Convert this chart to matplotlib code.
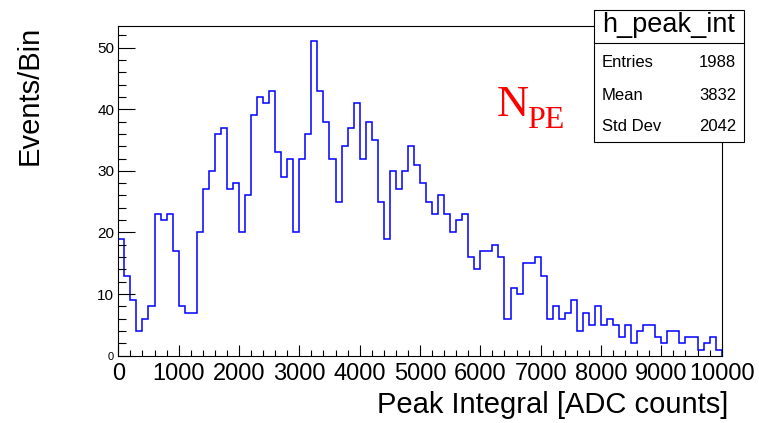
import numpy as np
import matplotlib
matplotlib.use("Agg")
import matplotlib.pyplot as plt
from matplotlib.patches import Rectangle
from matplotlib.lines import Line2D
from matplotlib.ticker import MultipleLocator

plt.rcParams["font.family"] = ["Liberation Sans", "DejaVu Sans"]

# ── 数据：h_peak_int，100 个 bin，每 bin 宽 100 ──────────────────────
bin_width = 100
counts = [
    19, 13, 9, 4, 6, 8, 23, 22, 23, 17,
    8, 7, 7, 20, 27, 30, 36, 37, 27, 28,
    20, 26, 39, 42, 41, 43, 33, 29, 32, 20,
    32, 36, 51, 43, 38, 32, 25, 34, 37, 41,
    32, 38, 35, 25, 19, 30, 27, 30, 34, 31,
    28, 25, 23, 26, 23, 20, 22, 23, 16, 14,
    17, 17, 18, 16, 6, 11, 10, 15, 15, 16,
    13, 6, 8, 6, 7, 9, 4, 7, 5, 8,
    5, 6, 5, 3, 5, 2, 4, 5, 5, 3,
    2, 4, 4, 2, 3, 3, 1, 2, 3, 1,
]
y_ticks = [0, 10, 20, 30, 40, 50]
y_tick_labels = ["0", "10", "20", "30", "40", "50"]

hist_name = "h_peak_int"
stat_labels = ["Entries", "Mean", "Std Dev"]
stat_values = ["1988", "3832", "2042"]

W, H = 759, 423


def fx(px):
    return px / W


def fy(py):
    return 1 - py / H


fig = plt.figure(figsize=(W / 100, H / 100), dpi=100)
ax = fig.add_axes([fx(118.3), fy(355.7), (721.7 - 118.3) / W, (355.7 - 25.7) / H])

edges = np.arange(len(counts) + 1) * bin_width
ax.stairs(counts, edges, color="#0000ff", linewidth=1.1, baseline=0)

ax.set_xlim(0, 10000)
ax.set_ylim(0, max(counts) * 1.05)

ax.xaxis.set_major_locator(MultipleLocator(1000))
ax.xaxis.set_minor_locator(MultipleLocator(200))
ax.ticklabel_format(axis="x", style="plain", useOffset=False)
ax.set_yticks(y_ticks, y_tick_labels)
ax.yaxis.set_minor_locator(MultipleLocator(2))

ax.tick_params(axis="x", which="major", direction="in", length=8, width=0.8,
               labelsize=17, pad=5, top=False)
ax.tick_params(axis="x", which="minor", direction="in", length=4.3, width=0.8, top=False)
ax.tick_params(axis="y", which="major", direction="in", length=12, width=0.8,
               labelsize=11, pad=3, right=False)
ax.tick_params(axis="y", which="minor", direction="in", length=6, width=0.8, right=False)
ax.get_yticklabels()[0].set_fontsize(8)

for sp in ax.spines.values():
    sp.set_linewidth(0.8)

ax.set_xlabel("Peak Integral [ADC counts]", fontsize=21, loc="right")
ax.xaxis.label.set_va("baseline")
ax.xaxis.set_label_coords(1.0104, -(413.3 - 355.7) / 330)

ax.set_ylabel("Events/Bin", fontsize=21, loc="top")
ax.yaxis.label.set_va("baseline")
ax.yaxis.set_label_coords((38 - 118.3) / 603.4, 1.0)

# 红色 N_PE 标注（N 与下标分开放，以便下标位置与原图一致）
serif = ["Liberation Serif", "DejaVu Serif"]
fig.text(fx(496.7), fy(115.7), "N", color="#ff0000", family=serif,
         fontsize=32, ha="left", va="baseline")
fig.text(fx(527), fy(128.3), "PE", color="#ff0000", family=serif,
         fontsize=23, ha="left", va="baseline")

# 统计框
box_l, box_r, box_t, box_b, box_sep = 594, 744, 10, 141.7, 42.7
fig.add_artist(Rectangle((fx(box_l), fy(box_b)), fx(box_r) - fx(box_l), fy(box_t) - fy(box_b),
                         transform=fig.transFigure, facecolor="white",
                         edgecolor="black", linewidth=0.8, zorder=5))
fig.add_artist(Line2D([fx(box_l), fx(box_r)], [fy(box_sep), fy(box_sep)],
                      transform=fig.transFigure, color="black", linewidth=0.8, zorder=6))
fig.text(fx(668.4), fy(32.5), hist_name, fontsize=19.5, ha="center", va="baseline", zorder=7)
for i, (lab, val) in enumerate(zip(stat_labels, stat_values)):
    yb = [67, 99.5, 131][i]
    fig.text(fx(601.7), fy(yb), lab, fontsize=12, ha="left", va="baseline", zorder=7)
    fig.text(fx(736), fy(yb), val, fontsize=12, ha="right", va="baseline", zorder=7)

fig.savefig("out.png", dpi=100)
